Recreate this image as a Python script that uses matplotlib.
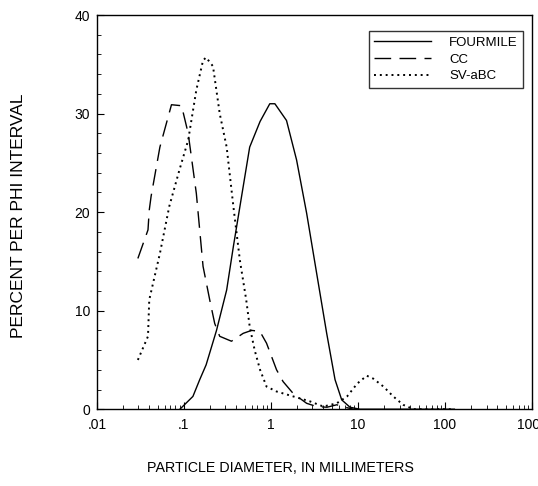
import numpy as np
import matplotlib.pyplot as plt
from matplotlib.ticker import FixedLocator, LogLocator, NullFormatter

plt.rcParams['font.family'] = ['Liberation Sans', 'DejaVu Sans']

# particle diameter (mm) and percent per phi interval
fourmile_d = [0.09, 0.127, 0.152, 0.18, 0.237, 0.31, 0.37, 0.46, 0.57, 0.75, 0.97,
              1.11, 1.51, 1.97, 2.57, 3.35, 4.37, 5.45, 6.5, 8.1, 10.5, 30, 128]
fourmile_p = [0, 1.3, 3.0, 4.5, 8.0, 12.1, 16.5, 21.6, 26.6, 29.2, 31.0,
              31.0, 29.3, 25.3, 19.9, 13.8, 7.7, 3.0, 0.95, 0.2, 0, 0, 0]

cc_d = [0.0296, 0.0387, 0.040, 0.042, 0.053, 0.072, 0.094, 0.112, 0.139, 0.166,
        0.198, 0.226, 0.258, 0.352, 0.48, 0.6, 0.746, 0.89, 1.16, 1.38, 1.8,
        2.57, 3.35, 4.4, 5.7, 7.1, 8.9]
cc_p = [15.3, 18.2, 20.2, 21.6, 26.6, 30.9, 30.8, 28.0, 21.9, 14.5,
        11.1, 8.7, 7.4, 6.9, 7.7, 8.0, 7.9, 6.7, 4.0, 2.8, 1.6,
        0.6, 0.27, 0.2, 0.45, 0.2, 0]

sv_d = [0.0296, 0.0387, 0.040, 0.053, 0.068, 0.089, 0.112, 0.139, 0.166, 0.18,
        0.216, 0.258, 0.31, 0.37, 0.44, 0.52, 0.57, 0.65, 0.75, 0.89, 1.16,
        1.8, 2.8, 4.0, 5.7, 7.5, 9.8, 12.6, 15, 19.6, 25.4, 33, 43.5, 128]
sv_p = [5.0, 7.4, 11.1, 15.8, 20.6, 24.3, 27.3, 32.4, 35.4, 35.7,
        34.8, 30.0, 26.6, 20.6, 15.1, 11.1, 8.4, 6.0, 4.0, 2.3, 1.8,
        1.3, 0.8, 0.27, 0.6, 1.3, 2.6, 3.4, 3.1, 2.3, 1.3, 0.45, 0, 0]

xticks = [0.01, 0.1, 1, 10, 100, 1000]
xticklabels = ['.01', '.1', '1', '10', '100', '1000']
yticks = [0, 10, 20, 30, 40]

fig = plt.figure(figsize=(5.38, 4.86), dpi=100)
ax = fig.add_axes([0.180, 0.158, 0.809, 0.811])

ax.plot(fourmile_d, fourmile_p, color='black', lw=1.0, ls='-', label='FOURMILE')
ax.plot(cc_d, cc_p, color='black', lw=1.0, ls=(0, (12, 6)), label='CC')
ax.plot(sv_d, sv_p, color='black', lw=1.4, ls=(0, (1, 2)), label='SV-aBC')

ax.set_xscale('log')
ax.set_xlim(0.01, 1000)
ax.set_ylim(0, 40)
ax.xaxis.set_major_locator(FixedLocator(xticks))
ax.set_xticklabels(xticklabels)
ax.xaxis.set_minor_locator(LogLocator(base=10, subs=np.arange(2, 10)))
ax.xaxis.set_minor_formatter(NullFormatter())
ax.set_yticks(yticks)
ax.yaxis.set_minor_locator(FixedLocator(np.arange(0, 41, 2)))

ax.tick_params(which='both', direction='in', labelsize=10, colors='black')
ax.tick_params(which='major', length=5, width=0.8)
ax.tick_params(which='minor', length=3, width=0.6)
ax.tick_params(axis='x', pad=6)
ax.tick_params(axis='y', pad=5)
for s in ax.spines.values():
    s.set_linewidth(1.0)

leg = ax.legend(loc='upper right', bbox_to_anchor=(0.979, 0.959), borderaxespad=0,
                fontsize=9.5, frameon=True, fancybox=False, edgecolor='black',
                handlelength=4.3, handletextpad=1.35, borderpad=0.4, labelspacing=0.35)
leg.get_frame().set_linewidth(1.0)

fig.text(0.034, 0.556, 'PERCENT PER PHI INTERVAL', rotation=90, ha='center', va='center',
         fontsize=12.5)
fig.text(0.522, 0.037, 'PARTICLE DIAMETER, IN MILLIMETERS', ha='center', va='center',
         fontsize=10.3)

fig.savefig('out.png', dpi=100)
